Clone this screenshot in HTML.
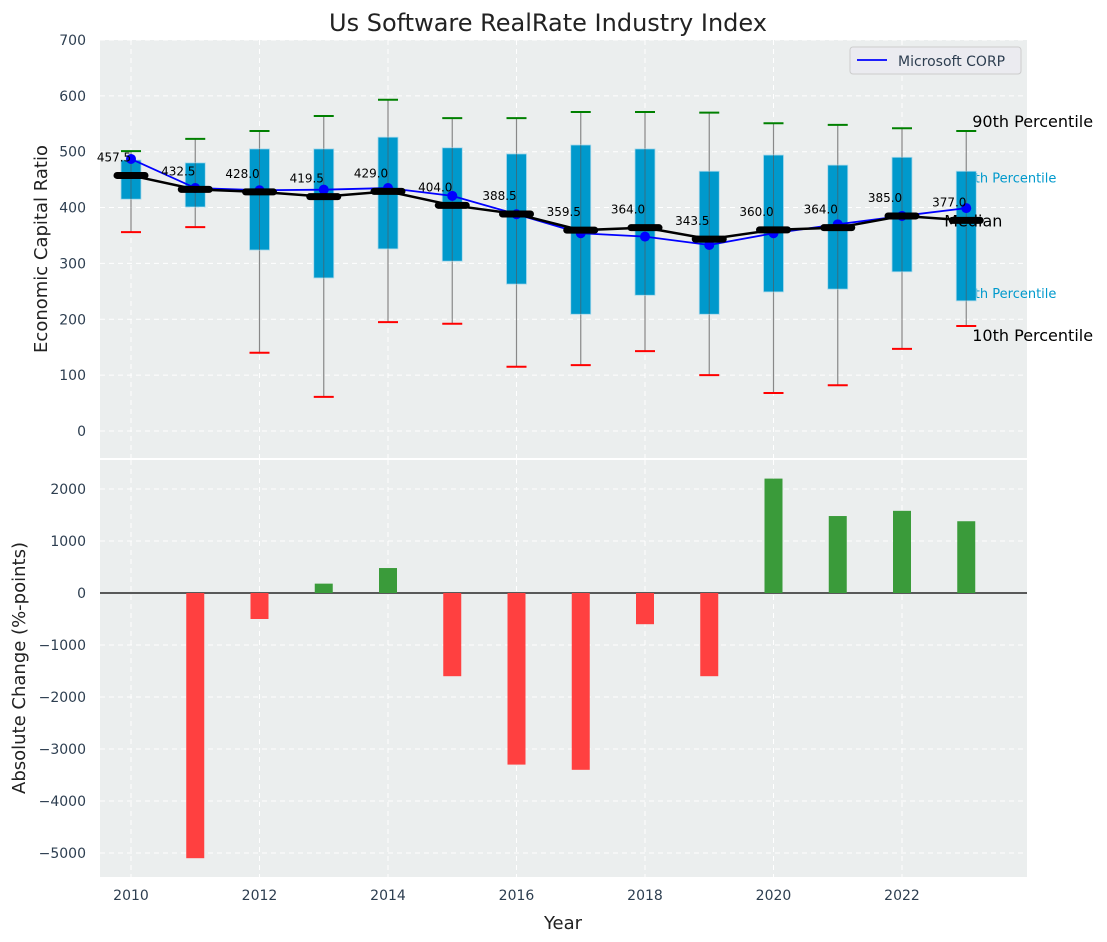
<!DOCTYPE html>
<html><head><meta charset="utf-8"><style>body{margin:0;background:#fff}svg{display:block;font-family:"DejaVu Sans","Liberation Sans",sans-serif}</style></head>
<body>
<svg id="c" width="1107" height="942"></svg>
<script>
const years=[2010,2011,2012,2013,2014,2015,2016,2017,2018,2019,2020,2021,2022,2023];
const p90=[501,523,537,564,593,560,560,571,571,570,551,548,542,537];
const p75=[485,480,505,505,526,507,496,512,505,465,494,476,490,465];
const medians=[457.5,432.5,428,419.5,429,404,388.5,359.5,364,343.5,360,364,385,377];
const p25=[415,401,324,274,326,304,263,209,243,209,249,254,285,233];
const p10=[356,365,140,61,195,192,115,118,143,100,68,82,147,188];
const msft=[487,435,431,432,435,421,388,354,348,333,354,370,385,399];
const changes=[0,-5100,-500,180,480,-1600,-3300,-3400,-600,-1600,2200,1480,1580,1380];
const topTicks=[0,100,200,300,400,500,600,700];
const botTicks=[-5000,-4000,-3000,-2000,-1000,0,1000,2000];
const xTicks=[2010,2012,2014,2016,2018,2020,2022];

const svg=document.getElementById('c');const NS='http://www.w3.org/2000/svg';
function mk(t,a,p){const e=document.createElementNS(NS,t);for(const k in a)e.setAttribute(k,a[k]);(p||svg).appendChild(e);return e;}
const X=v=>131+(v-2010)*64.25;
const YT=v=>431-v*0.5586;
const YB=v=>593-v*0.052;
const L=100,R=1027;
let g=mk('g',{});
mk('rect',{x:L,y:40,width:R-L,height:418,fill:'#ebeeee'},g);
let g2=mk('g',{});
mk('rect',{x:L,y:460,width:R-L,height:417,fill:'#ebeeee'},g2);
xTicks.forEach(t=>{mk('line',{x1:X(t),x2:X(t),y1:40,y2:458,stroke:'#fff','stroke-dasharray':'5,4','stroke-width':1},g);mk('line',{x1:X(t),x2:X(t),y1:460,y2:877,stroke:'#fff','stroke-dasharray':'5,4','stroke-width':1},g2);
 const tx=mk('text',{x:X(t),y:900,'text-anchor':'middle','font-size':14,fill:'#2d3e50'});tx.textContent=t;});
topTicks.forEach(t=>{mk('line',{x1:L,x2:R,y1:YT(t),y2:YT(t),stroke:'#fff','stroke-dasharray':'5,4'},g);
 const tx=mk('text',{x:86,y:YT(t)+5,'text-anchor':'end','font-size':14,fill:'#2d3e50'});tx.textContent=t;});
botTicks.forEach(t=>{mk('line',{x1:L,x2:R,y1:YB(t),y2:YB(t),stroke:'#fff','stroke-dasharray':'5,4'},g2);
 const tx=mk('text',{x:86,y:YB(t)+5,'text-anchor':'end','font-size':14,fill:'#2d3e50'});tx.textContent=(t<0?'\u2212'+(-t):t);});
const last=years.length-1;
function ann(txt,x,y,fs,col){const t=mk('text',{x:x,y:y,'font-size':fs,fill:col});t.textContent=txt;}
ann('75th Percentile',X(years[last])-8,YT(p75[last])+11,13,'#0099cc');
ann('25th Percentile',X(years[last])-8,YT(p25[last])-3,13,'#0099cc');
years.forEach((y,i)=>{
 const x=X(y);
 const w=mk('line',{x1:x,x2:x,y1:YT(p90[i]),y2:YT(p10[i]),stroke:'#888','stroke-width':1.2});
 const b=mk('rect',{x:x-10,y:YT(p75[i]),width:20,height:YT(p25[i])-YT(p75[i]),fill:'#0099cc',stroke:'#a8d8ea','stroke-width':0.8});
 mk('line',{x1:x,x2:x,y1:YT(p75[i]),y2:YT(p25[i]),stroke:'#555','stroke-width':1,opacity:0.6});
 const c1=mk('line',{x1:x-10,x2:x+10,y1:YT(p90[i]),y2:YT(p90[i]),stroke:'#008000','stroke-width':2});
 const c2=mk('line',{x1:x-10,x2:x+10,y1:YT(p10[i]),y2:YT(p10[i]),stroke:'#ff0000','stroke-width':2});
});
ann('90th Percentile',X(years[last])+6,YT(p90[last])-4,16,'#000');
ann('Median',X(years[last])-22,YT(medians[last])+6,16,'#000');
ann('10th Percentile',X(years[last])+6,YT(p10[last])+15,16,'#000');
const ml=mk('polyline',{points:years.map((y,i)=>X(y)+','+YT(msft[i])).join(' '),fill:'none',stroke:'#0000ff','stroke-width':1.8});
years.forEach((y,i)=>{const c=mk('circle',{cx:X(y),cy:YT(msft[i]),r:5,fill:'#0000ff'});});
const md=mk('polyline',{points:years.map((y,i)=>X(y)+','+YT(medians[i])).join(' '),fill:'none',stroke:'#000','stroke-width':2.5});
years.forEach((y,i)=>{const x=X(y),yy=YT(medians[i]);
 const m=mk('line',{x1:x-14,x2:x+14,y1:yy,y2:yy,stroke:'#000','stroke-width':7,'stroke-linecap':'round'});
 const t=mk('text',{x:x-17,y:yy-14,'text-anchor':'middle','font-size':12,fill:'#000'});t.textContent=medians[i].toFixed(1);});
years.forEach((y,i)=>{const v=changes[i];if(v===0)return;const x=X(y);
 const r=mk('rect',{x:x-9,y:Math.min(YB(v),YB(0)),width:18,height:Math.abs(YB(v)-YB(0)),fill:v>=0?'#3a9b3a':'#ff4040'});});
mk('line',{x1:L,x2:R,y1:YB(0),y2:YB(0),stroke:'#000','stroke-width':1.2},g2);
let lg=mk('g',{});
mk('rect',{x:850,y:47,width:171,height:27,rx:3,fill:'#ebebf0',stroke:'#ccc'},lg);
mk('line',{x1:857,x2:887,y1:60,y2:60,stroke:'#0000ff','stroke-width':1.8},lg);
const lt=mk('text',{x:898,y:66,'font-size':14,fill:'#2d3e50'},lg);lt.textContent='Microsoft CORP';
const ti=mk('text',{x:548,y:31,'text-anchor':'middle','font-size':24,fill:'#222'});ti.textContent='Us Software RealRate Industry Index';
const xl=mk('text',{x:563,y:929,'text-anchor':'middle','font-size':18,fill:'#222'});xl.textContent='Year';
const y1=mk('text',{x:47,y:249,'text-anchor':'middle','font-size':18,fill:'#222',transform:'rotate(-90 47 249)'});y1.textContent='Economic Capital Ratio';
const y2=mk('text',{x:25,y:668,'text-anchor':'middle','font-size':18,fill:'#222',transform:'rotate(-90 25 668)'});y2.textContent='Absolute Change (%-points)';
</script>
</body></html>
